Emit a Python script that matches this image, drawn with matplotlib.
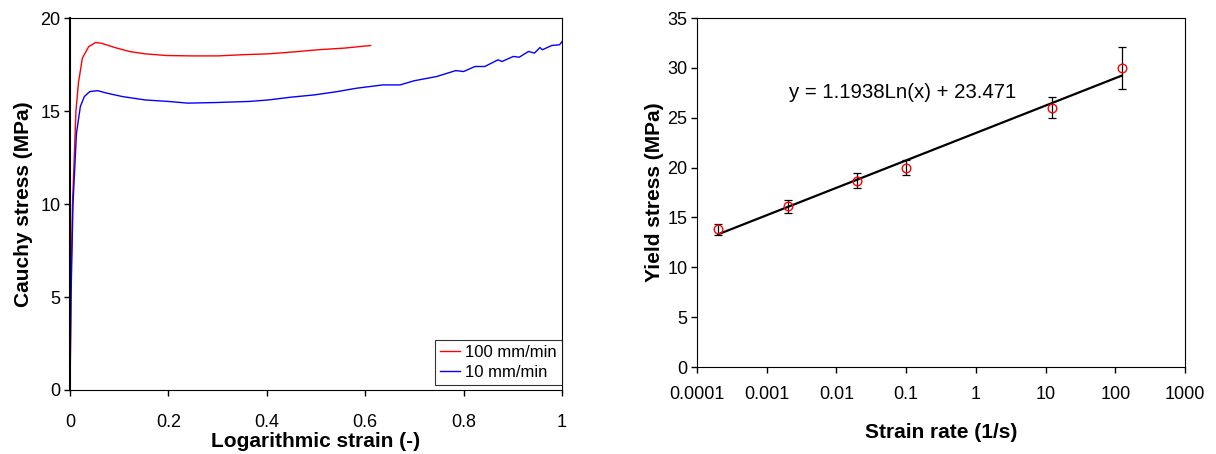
import numpy as np
import matplotlib.pyplot as plt
from matplotlib.ticker import FixedLocator, FixedFormatter

plt.rcParams['font.family'] = ['Liberation Sans', 'DejaVu Sans']

# left panel: true stress-strain curves
red_x = [0, 0.002, 0.005, 0.012, 0.017, 0.025, 0.038, 0.052, 0.064, 0.091, 0.122, 0.153,
         0.196, 0.247, 0.301, 0.356, 0.403, 0.457, 0.504, 0.558, 0.611]
red_y = [0, 6.0, 10.0, 15.0, 16.5, 17.85, 18.47, 18.69, 18.65, 18.42, 18.2, 18.08,
         17.99, 17.97, 17.97, 18.04, 18.08, 18.19, 18.3, 18.39, 18.53]

blue_x = [0, 0.002, 0.006, 0.013, 0.021, 0.029, 0.04, 0.056, 0.076, 0.107, 0.153, 0.2,
          0.239, 0.294, 0.364, 0.403, 0.449, 0.496, 0.543, 0.582, 0.636, 0.671, 0.699,
          0.745, 0.784, 0.8, 0.823, 0.843, 0.87, 0.878, 0.901, 0.913, 0.932, 0.944,
          0.955, 0.96, 0.979, 0.995, 1.0]
blue_y = [0, 5.0, 10.0, 13.8, 15.25, 15.78, 16.05, 16.1, 15.96, 15.78, 15.6, 15.52,
          15.43, 15.46, 15.52, 15.6, 15.75, 15.87, 16.05, 16.23, 16.41, 16.41, 16.63,
          16.86, 17.18, 17.13, 17.4, 17.4, 17.76, 17.67, 17.94, 17.9, 18.21, 18.12,
          18.42, 18.3, 18.53, 18.57, 18.74]

# right panel: yield stress vs strain rate
rate = [0.0002, 0.002, 0.02, 0.1, 12.5, 123]
yield_stress = [13.8, 16.1, 18.7, 20.0, 26.0, 30.0]
yield_err = [0.55, 0.68, 0.77, 0.79, 1.06, 2.12]
fit_a, fit_b = 1.1938, 23.471

fig = plt.figure(figsize=(12.16, 4.54), dpi=100)

ax1 = fig.add_axes([0.0576, 0.141, 0.4046, 0.819])
ax1.plot(red_x, red_y, color='red', lw=1.0, label='100 mm/min')
ax1.plot(blue_x, blue_y, color='blue', lw=1.0, label='10 mm/min')
ax1.set_xlim(0, 1)
ax1.set_ylim(0, 20)
ax1.set_xticks([0, 0.2, 0.4, 0.6, 0.8, 1])
ax1.set_xticklabels(['0', '0.2', '0.4', '0.6', '0.8', '1'])
ax1.set_yticks([0, 5, 10, 15, 20])
ax1.tick_params(labelsize=13, length=4, width=1, direction='out')
ax1.tick_params(axis='x', pad=13)
ax1.tick_params(axis='y', pad=3)
ax1.set_xlabel('Logarithmic strain (-)', fontsize=15, fontweight='bold', labelpad=1)
ax1.set_ylabel('Cauchy stress (MPa)', fontsize=15, fontweight='bold', labelpad=5)
ax1.spines['left'].set_linewidth(1.5)
leg = ax1.legend(loc='lower right', bbox_to_anchor=(1.0, 0.013), fontsize=12,
                 frameon=True, fancybox=False, edgecolor='black', handlelength=1.15,
                 borderaxespad=0, handletextpad=0.35, borderpad=0.3, labelspacing=0.3)
leg.get_frame().set_linewidth(0.8)

ax2 = fig.add_axes([0.5732, 0.1916, 0.4013, 0.7687])
ax2.set_xscale('log')
ax2.errorbar(rate, yield_stress, yerr=yield_err, fmt='none', ecolor='black',
             elinewidth=0.9, capsize=3, capthick=0.9, zorder=2)
xs = np.array([rate[0], rate[-1]])
ax2.plot(xs, fit_a * np.log(xs) + fit_b, color='black', lw=1.6, zorder=3)
ax2.plot(rate, yield_stress, 'o', mfc='none', mec='red', ms=6.2, mew=1.0, zorder=4)
ax2.text(0.0021, 27.5, 'y = 1.1938Ln(x) + 23.471', fontsize=14.7, va='center')
ax2.set_xlim(0.0001, 1000)
ax2.set_ylim(0, 35)
xt = [0.0001, 0.001, 0.01, 0.1, 1, 10, 100, 1000]
ax2.xaxis.set_major_locator(FixedLocator(xt))
ax2.xaxis.set_major_formatter(FixedFormatter(['0.0001', '0.001', '0.01', '0.1', '1', '10', '100', '1000']))
ax2.xaxis.set_minor_locator(FixedLocator([]))
ax2.set_yticks(range(0, 36, 5))
ax2.tick_params(labelsize=13, length=4, width=1, direction='out')
ax2.tick_params(axis='x', pad=10)
ax2.tick_params(axis='y', pad=3)
ax2.set_xlabel('Strain rate (1/s)', fontsize=15, fontweight='bold', labelpad=14)
ax2.set_ylabel('Yield stress (MPa)', fontsize=15, fontweight='bold', labelpad=2)

fig.savefig('out.png', dpi=100)
